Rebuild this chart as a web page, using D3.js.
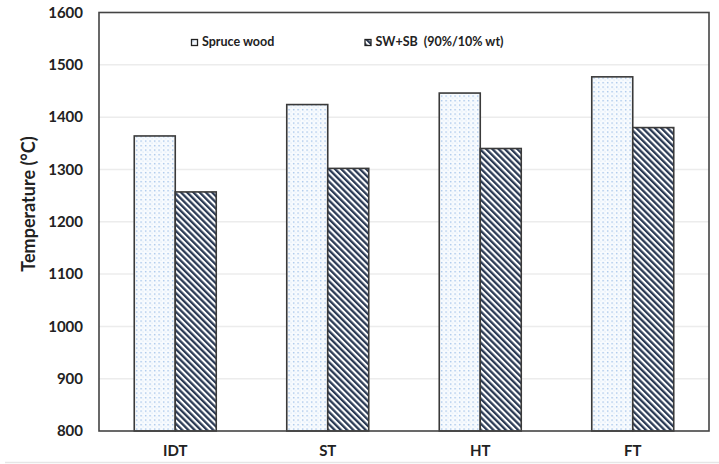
<!DOCTYPE html>
<html>
<head>
<meta charset="utf-8">
<script src="https://cdn.jsdelivr.net/npm/d3@7"></script>
<style>
  body { margin: 0; background: #fff; }
  svg text { font-family: Lato, "Open Sans", sans-serif; font-weight: bold; fill: #222; }
</style>
</head>
<body>
<svg id="chart"></svg>
<script>
const categories = ['IDT', 'ST', 'HT', 'FT'];
const seriesNames = ['Spruce wood', 'SW+SB  (90%/10% wt)'];
const spruceValues = [1364, 1424, 1446, 1477];
const blendValues = [1257, 1302, 1340, 1380];
const yTicks = [800, 900, 1000, 1100, 1200, 1300, 1400, 1500, 1600];

const width = 719;
const height = 464;
const margin = { top: 12.5, right: 10, bottom: 33, left: 99 };

const svg = d3.select('#chart')
  .attr('width', width)
  .attr('height', height);

const defs = svg.append('defs');

// dotted light blue fill
const dots = defs.append('pattern')
  .attr('id', 'dots')
  .attr('patternUnits', 'userSpaceOnUse')
  .attr('width', 4.5).attr('height', 4.5);
dots.append('rect').attr('width', 4.5).attr('height', 4.5).attr('fill', '#f8fbfe');
dots.append('rect').attr('x', 1).attr('y', 1).attr('width', 1.3).attr('height', 1.3).attr('fill', '#93b9e6');
dots.append('rect').attr('x', 3.2).attr('y', 3.2).attr('width', 0.9).attr('height', 0.9).attr('fill', '#c6dbf2');

// dark diagonal hatch, running top-left to bottom-right
const hatch = defs.append('pattern')
  .attr('id', 'hatch')
  .attr('patternUnits', 'userSpaceOnUse')
  .attr('width', 4.4).attr('height', 4.4)
  .attr('patternTransform', 'rotate(-45)');
hatch.append('rect').attr('width', 4.4).attr('height', 4.4).attr('fill', '#fff');
hatch.append('rect').attr('x', 0).attr('width', 2.3).attr('height', 4.4).attr('fill', '#2b3a55');

const x = d3.scaleBand()
  .domain(categories)
  .range([margin.left, width - margin.right]);

const inner = d3.scaleBand()
  .domain([0, 1])
  .range([0, x.bandwidth()])
  .paddingInner(0)
  .paddingOuter(0.86);

const y = d3.scaleLinear()
  .domain([800, 1600])
  .range([height - margin.bottom, margin.top]);

// gridlines
svg.append('g')
  .selectAll('line')
  .data(yTicks.slice(1, -1))
  .join('line')
  .attr('x1', margin.left).attr('x2', width - margin.right)
  .attr('y1', d => y(d)).attr('y2', d => y(d))
  .attr('stroke', '#ececec').attr('stroke-width', 1.5);

// bars
const data = categories.map((c, i) => ({ cat: c, vals: [spruceValues[i], blendValues[i]] }));
const fills = ['url(#dots)', 'url(#hatch)'];

const groups = svg.append('g')
  .selectAll('g')
  .data(data)
  .join('g')
  .attr('transform', d => `translate(${x(d.cat)},0)`);

groups.selectAll('rect')
  .data(d => d.vals.map((v, k) => ({ k, v })))
  .join('rect')
  .attr('x', d => inner(d.k))
  .attr('width', inner.bandwidth())
  .attr('y', d => y(d.v))
  .attr('height', d => y(800) - y(d.v))
  .attr('fill', d => fills[d.k])
  .attr('stroke', '#3a3a3a')
  .attr('stroke-width', 1.6);

// frame
svg.append('rect')
  .attr('x', margin.left).attr('y', margin.top)
  .attr('width', width - margin.left - margin.right)
  .attr('height', height - margin.top - margin.bottom)
  .attr('fill', 'none')
  .attr('stroke', '#444')
  .attr('stroke-width', 1.6);

// y axis
const yAxis = d3.axisLeft(y).tickValues(yTicks).tickFormat(d3.format('d')).tickSize(0).tickPadding(16);
svg.append('g')
  .attr('transform', `translate(${margin.left},0)`)
  .call(yAxis)
  .call(g => g.select('.domain').remove())
  .selectAll('text')
  .style('font-size', '15px');

// x axis
const xAxis = d3.axisBottom(x).tickSize(0).tickPadding(14);
svg.append('g')
  .attr('transform', `translate(0,${height - margin.bottom})`)
  .call(xAxis)
  .call(g => g.select('.domain').remove())
  .selectAll('text')
  .style('font-size', '15px');

// y title
svg.append('text')
  .attr('transform', 'translate(35,204) rotate(-90)')
  .attr('text-anchor', 'middle')
  .style('font-size', '18px')
  .text('Temperature (°C)');

// legend
const legendX = [191.5, 365];
const legend = svg.append('g')
  .selectAll('g')
  .data(seriesNames)
  .join('g')
  .attr('transform', (d, i) => `translate(${legendX[i]},39.5)`);

legend.append('rect')
  .attr('width', 6).attr('height', 6)
  .attr('fill', (d, i) => fills[i])
  .attr('stroke', '#222').attr('stroke-width', 1.3);

legend.append('text')
  .attr('x', 10.5).attr('y', 6.8)
  .style('font-size', '12.5px')
  .style('white-space', 'pre')
  .text(d => d);

// bottom separator line
svg.append('line')
  .attr('x1', 5).attr('x2', width)
  .attr('y1', 462.5).attr('y2', 462.5)
  .attr('stroke', '#e6e6e6').attr('stroke-width', 1.5);
</script>
</body>
</html>
